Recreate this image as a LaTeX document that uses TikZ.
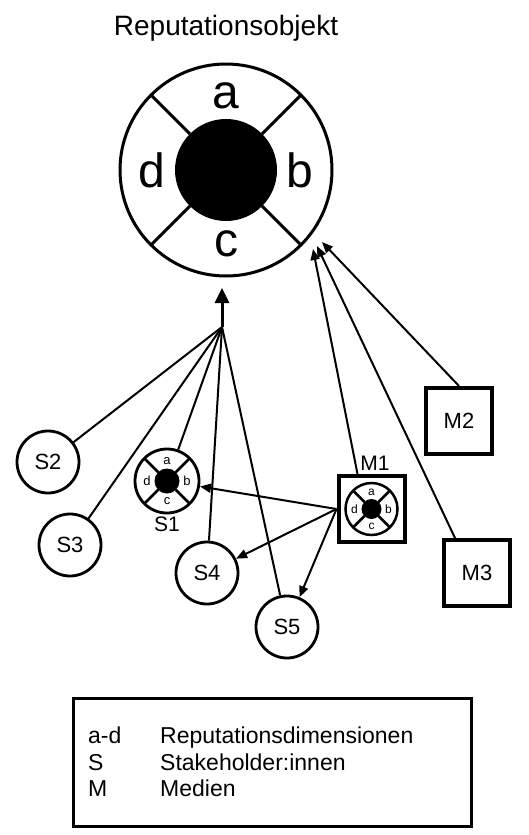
\documentclass[tikz,border=0pt]{standalone}
\usepackage{fontspec}
\setmainfont{Liberation Sans}
\usetikzlibrary{arrows.meta}
\tikzset{
  stake/.style={circle, draw, line width=2.8pt, minimum size=62pt, inner sep=0pt, font=\fontsize{22}{26}\selectfont},
  medium/.style={rectangle, draw, line width=4pt, minimum size=66pt, inner sep=0pt, font=\fontsize{22}{26}\selectfont},
  link/.style={line width=2pt},
  arr/.style={line width=2pt, -{Triangle[length=11pt,width=9pt]}},
  lbl/.style={inner sep=0pt, font=\fontsize{21}{25}\selectfont},
  legtxt/.style={anchor=base west, inner sep=0pt, font=\fontsize{23}{27}\selectfont},
}
% #1 name, #2 center, #3 outer radius, #4 inner radius, #5 font size, #6 line width, #7 letter radius
\newcommand\reswheel[7]{%
  \node[circle, draw, line width=#6, minimum size={(2*#3)*1pt}, inner sep=0pt] (#1) at (#2) {};
  \fill (#1.center) circle (#4);
  \foreach \ang in {45,135,225,315}
    \draw[line width=#6] ([shift={(\ang:#4)}]#1.center) -- ([shift={(\ang:#3)}]#1.center);
  \node[inner sep=0pt, font=\fontsize{#5}{#5}\selectfont] (#1a) at ([shift={(270:#7)}]#1.center) {a};
  \node[inner sep=0pt, font=\fontsize{#5}{#5}\selectfont] (#1b) at ([shift={(0:#7)}]#1.center) {b};
  \node[inner sep=0pt, font=\fontsize{#5}{#5}\selectfont] (#1c) at ([shift={(90:#7)}]#1.center) {c};
  \node[inner sep=0pt, font=\fontsize{#5}{#5}\selectfont] (#1d) at ([shift={(180:#7)}]#1.center) {d};
}
\begin{document}
\begin{tikzpicture}[x=1pt,y=-1pt]
\useasboundingbox (0,0) rectangle (528,835);

% title
\node[inner sep=0pt, font=\fontsize{28}{32}\selectfont] (title) at (226,28) {Reputationsobjekt};

% main object
\reswheel{obj}{226,170}{106}{51}{48}{3pt}{74}

% stakeholders
\reswheel{S1}{167,481}{32}{12.5}{13}{2.8pt}{20}
\node[lbl] (S1lab) at (167,524) {S1};
\node[stake] (S2) at (48,462) {S2};
\node[stake] (S3) at (70,545) {S3};
\node[stake] (S4) at (207,573) {S4};
\node[stake] (S5) at (287,627) {S5};

% media
\node[medium] (M1) at (371.5,509) {};
\reswheel{M1w}{M1.center}{26}{10}{12}{2.5pt}{17}
\node[lbl] (M1lab) at (375,463) {M1};
\node[medium] (M2) at (459,421) {M2};
\node[medium] (M3) at (477,573) {M3};

% junction arrow
\coordinate (J) at (222,327);
\coordinate (T) at (222,288);
\draw[line width=3pt, -{Triangle[length=15pt,width=14pt]}] (J) -- (T);
\foreach \s in {S1,S2,S3,S4,S5} \draw[link] (\s) -- (J);

% media to object
\coordinate (T1) at (313,249);
\coordinate (T3) at (317,246);
\coordinate (T2) at (322,242);
\draw[arr] ([xshift=-14pt]M1.north) -- (T1);
\draw[arr] (M2.north) -- (T2);
\draw[arr] ([xshift=-22pt]M3.north) -- (T3);

% media to stakeholders
\draw[arr] (M1.west) -- (S1);
\draw[arr] (M1.west) -- (S4);
\draw[arr] (M1.west) -- (S5);

% legend
\node[draw, line width=2.5pt, minimum width=398pt, minimum height=128pt, anchor=north west, inner sep=0pt] (legend) at (72,697) {};
\node[legtxt] (k1) at (88,743) {a-d};
\node[legtxt] (v1) at (160,743) {Reputationsdimensionen};
\node[legtxt] (k2) at (88,770) {S};
\node[legtxt] (v2) at (160,770) {Stakeholder:innen};
\node[legtxt] (k3) at (88,796) {M};
\node[legtxt] (v3) at (160,796) {Medien};
\end{tikzpicture}
\end{document}
